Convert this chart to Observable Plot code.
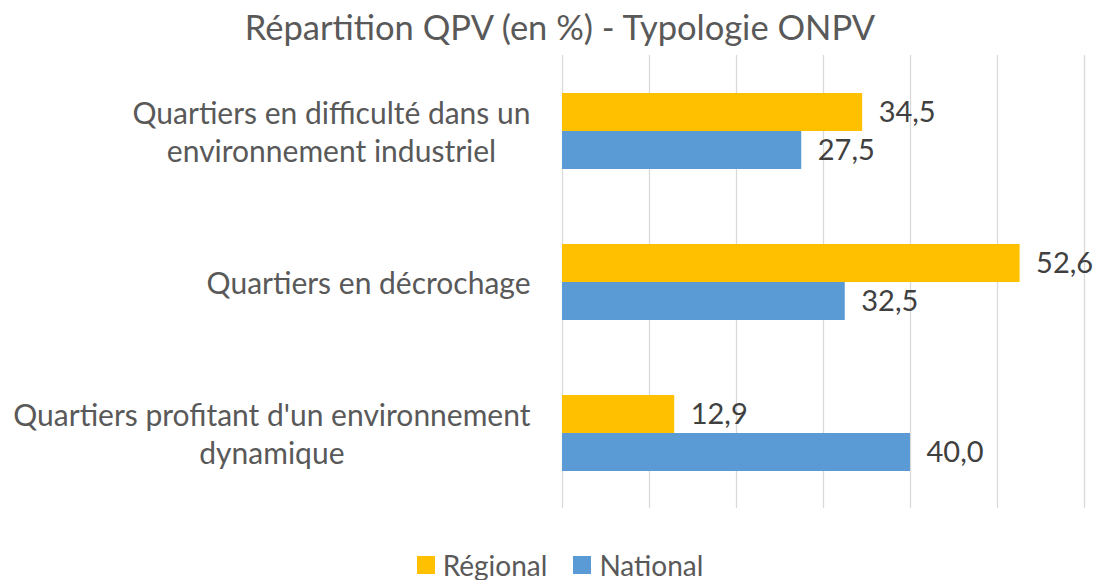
<!DOCTYPE html>
<html>
<head>
<meta charset="utf-8">
<script src="https://cdn.jsdelivr.net/npm/d3@7"></script>
<script src="https://cdn.jsdelivr.net/npm/@observablehq/plot@0.6"></script>
<style>
  html, body { margin: 0; padding: 0; background: #fff; overflow: hidden; }
  body { width: 1095px; height: 580px; font-family: Lato, "Open Sans", sans-serif; color: #595959; }
  #title { width: 1120px; height: 55px; line-height: 54px; text-align: center; font-size: 34.5px; white-space: nowrap; }
  #chart svg { display: block; }
  #legend { width: 1120px; display: flex; justify-content: center; align-items: center; font-size: 28px; line-height: 30px; height: 30px; margin-top: 42px; }
  .item { display: flex; align-items: center; margin: 0 13px; }
  .sw { width: 18px; height: 18px; margin-right: 8px; }
</style>
</head>
<body>
<div id="title">Répartition QPV (en %) - Typologie ONPV</div>
<div id="chart"></div>
<div id="legend"></div>
<script>
const categories = [
  "Quartiers en difficulté dans un\nenvironnement industriel",
  "Quartiers en décrochage",
  "Quartiers profitant d'un environnement\ndynamique"
];
const series = ["Régional", "National"];
const regional = [34.5, 52.6, 12.9];
const national = [27.5, 32.5, 40.0];
const colors = ["#FFC000", "#5B9BD5"];
const gridTicks = [0, 10, 20, 30, 40, 50, 60];

const data = [];
categories.forEach((c, i) => {
  data.push({category: c, series: "Régional", value: regional[i]});
  data.push({category: c, series: "National", value: national[i]});
});

const fmt = v => d3.format(".1f")(v).replace(".", ",");
const labelSize = 30;
const ctx = document.createElement("canvas").getContext("2d");
ctx.font = labelSize + "px Lato";
const labelGap = 32;

const labelMarks = categories.map(c => {
  const w = d3.max(c.split("\n"), l => ctx.measureText(l).width);
  return Plot.text([c], {
    fy: d => d,
    text: d => d,
    frameAnchor: "left",
    textAnchor: "middle",
    dx: -labelGap - w / 2,
    fontSize: labelSize,
    lineHeight: 1.28,
    fill: "#595959"
  });
});

const chart = Plot.plot({
  width: 1095,
  height: 453,
  marginLeft: 562,
  marginRight: 11,
  marginTop: 0,
  marginBottom: 0,
  style: {fontFamily: "Lato, 'Open Sans', sans-serif", overflow: "visible"},
  x: {domain: [0, 60], axis: null},
  y: {domain: series, paddingInner: 0, paddingOuter: 0.936, axis: null},
  fy: {domain: categories, padding: 0, axis: null},
  color: {domain: series, range: colors},
  marks: [
    Plot.ruleX(gridTicks, {stroke: "#d9d9d9", strokeWidth: 1.3}),
    Plot.barX(data, {x: "value", y: "series", fy: "category", fill: "series"}),
    Plot.text(data, {
      x: "value", y: "series", fy: "category",
      text: d => fmt(d.value),
      textAnchor: "start", dx: 16,
      fontSize: 29, fill: "#404040"
    }),
    ...labelMarks
  ]
});
document.getElementById("chart").appendChild(chart);

const legend = document.getElementById("legend");
series.forEach((s, i) => {
  const item = document.createElement("div");
  item.className = "item";
  const sw = document.createElement("div");
  sw.className = "sw";
  sw.style.background = colors[i];
  const t = document.createElement("span");
  t.textContent = s;
  item.appendChild(sw);
  item.appendChild(t);
  legend.appendChild(item);
});
</script>
</body>
</html>
